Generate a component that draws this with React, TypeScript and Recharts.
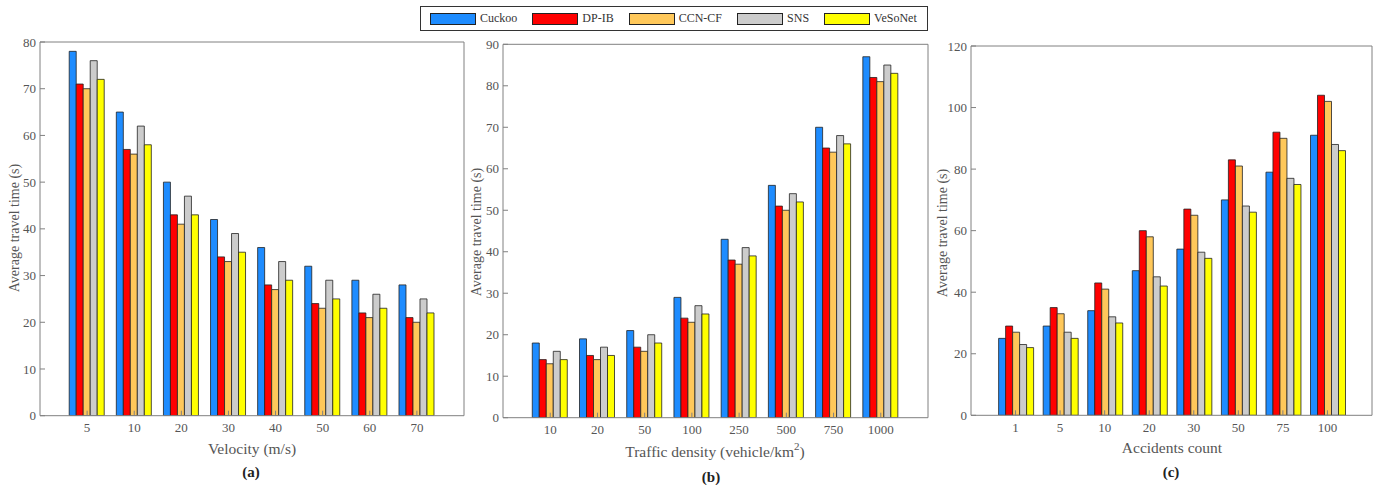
import React from 'react';
import { BarChart, Bar, XAxis, YAxis } from 'recharts';

const seriesNames = ['Cuckoo', 'DP-IB', 'CCN-CF', 'SNS', 'VeSoNet'];
const seriesColors = ['#1e8cff', '#ff0000', '#ffc85a', '#cccccc', '#ffff00'];

// (a) velocity
const velocityCats = ['5', '10', '20', '30', '40', '50', '60', '70'];
const velCuckoo = [78, 65, 50, 42, 36, 32, 29, 28];
const velDpib = [71, 57, 43, 34, 28, 24, 22, 21];
const velCcncf = [70, 56, 41, 33, 27, 23, 21, 20];
const velSns = [76, 62, 47, 39, 33, 29, 26, 25];
const velVesonet = [72, 58, 43, 35, 29, 25, 23, 22];
const velTicks = [0, 10, 20, 30, 40, 50, 60, 70, 80];

// (b) traffic density
const densityCats = ['10', '20', '50', '100', '250', '500', '750', '1000'];
const denCuckoo = [18, 19, 21, 29, 43, 56, 70, 87];
const denDpib = [14, 15, 17, 24, 38, 51, 65, 82];
const denCcncf = [13, 14, 16, 23, 37, 50, 64, 81];
const denSns = [16, 17, 20, 27, 41, 54, 68, 85];
const denVesonet = [14, 15, 18, 25, 39, 52, 66, 83];
const denTicks = [0, 10, 20, 30, 40, 50, 60, 70, 80, 90];

// (c) accidents count
const accidentCats = ['1', '5', '10', '20', '30', '50', '75', '100'];
const accCuckoo = [25, 29, 34, 47, 54, 70, 79, 91];
const accDpib = [29, 35, 43, 60, 67, 83, 92, 104];
const accCcncf = [27, 33, 41, 58, 65, 81, 90, 102];
const accSns = [23, 27, 32, 45, 53, 68, 77, 88];
const accVesonet = [22, 25, 30, 42, 51, 66, 75, 86];
const accTicks = [0, 20, 40, 60, 80, 100, 120];

const font = '"Liberation Serif", "Times New Roman", serif';
const axisGray = '#808080';
const textGray = '#555';

function makeRows(cats: string[], series: number[][]) {
  return cats.map((cat, i) => {
    const row: Record<string, string | number> = { cat };
    seriesNames.forEach((name, s) => {
      row[name] = series[s][i];
    });
    return row;
  });
}

type PanelProps = {
  data: Record<string, string | number>[];
  ticks: number[];
  plotLeft: number;
  plotWidth: number;
  plotTop: number;
  plotBottom: number;
};

function Panel({ data, ticks, plotLeft, plotWidth, plotTop, plotBottom }: PanelProps) {
  const yMax = ticks[ticks.length - 1];
  const pad = plotWidth / 18;
  const chartW = 40 + plotWidth + 8;
  const chartH = 485;
  return (
    <div style={{ position: 'absolute', left: plotLeft - 40, top: 0 }}>
      <BarChart
        width={chartW}
        height={chartH}
        data={data}
        margin={{ top: plotTop - 1, right: 7, bottom: chartH - plotBottom - 30, left: 10 }}
        barGap={0}
        barCategoryGap="12%"
      >
        <XAxis
          dataKey="cat"
          interval={0}
          height={30}
          padding={{ left: pad, right: pad }}
          axisLine={{ stroke: axisGray }}
          tickLine={{ stroke: axisGray }}
          tickSize={-5}
          tickMargin={12}
          tick={{ fill: textGray, fontSize: 13, fontFamily: font }}
        />
        <XAxis
          xAxisId="top"
          orientation="top"
          dataKey="cat"
          interval={0}
          height={1}
          padding={{ left: pad, right: pad }}
          axisLine={{ stroke: axisGray }}
          tickLine={{ stroke: axisGray }}
          tickSize={-5}
          tick={false}
        />
        <YAxis
          width={30}
          domain={[0, yMax]}
          ticks={ticks}
          interval={0}
          allowDataOverflow
          axisLine={{ stroke: axisGray }}
          tickLine={{ stroke: axisGray }}
          tickSize={-5}
          tickMargin={9}
          tick={{ fill: textGray, fontSize: 13, fontFamily: font }}
        />
        <YAxis
          yAxisId="right"
          orientation="right"
          width={1}
          domain={[0, yMax]}
          ticks={ticks}
          interval={0}
          allowDataOverflow
          axisLine={{ stroke: axisGray }}
          tickLine={{ stroke: axisGray }}
          tickSize={-5}
          tick={false}
        />
        {seriesNames.map((name, i) => (
          <Bar
            key={name}
            dataKey={name}
            fill={seriesColors[i]}
            stroke="#222"
            strokeWidth={0.8}
            isAnimationActive={false}
          />
        ))}
      </BarChart>
    </div>
  );
}

function Label({ x, y, text, rotate, bold, size }: { x: number; y: number; text: React.ReactNode; rotate?: boolean; bold?: boolean; size?: number }) {
  return (
    <div
      style={{
        position: 'absolute',
        left: x,
        top: y,
        transform: `translate(-50%, -50%)${rotate ? ' rotate(-90deg)' : ''}`,
        whiteSpace: 'nowrap',
        fontFamily: font,
        fontSize: size ?? 15.5,
        fontWeight: bold ? 'bold' : 'normal',
        color: bold ? '#222' : textGray,
        lineHeight: 1,
      }}
    >
      {text}
    </div>
  );
}

export default function App() {
  const velRows = makeRows(velocityCats, [velCuckoo, velDpib, velCcncf, velSns, velVesonet]);
  const denRows = makeRows(densityCats, [denCuckoo, denDpib, denCcncf, denSns, denVesonet]);
  const accRows = makeRows(accidentCats, [accCuckoo, accDpib, accCcncf, accSns, accVesonet]);

  return (
    <div style={{ position: 'absolute', left: 0, top: 0, width: 1381, height: 485, background: '#fff', fontFamily: font }}>
      <Panel data={velRows} ticks={velTicks} plotLeft={39.5} plotWidth={424} plotTop={42} plotBottom={415.7} />
      <Panel data={denRows} ticks={denTicks} plotLeft={503.3} plotWidth={425} plotTop={44.3} plotBottom={417.7} />
      <Panel data={accRows} ticks={accTicks} plotLeft={970.7} plotWidth={401} plotTop={46} plotBottom={415.3} />

      <Label x={15} y={228} text="Average travel time (s)" rotate size={14} />
      <Label x={477} y={232} text="Average travel time (s)" rotate size={14} />
      <Label x={943} y={233} text="Average travel time (s)" rotate size={14} />

      <Label x={252} y={449} text="Velocity (m/s)" />
      <Label
        x={715}
        y={452}
        text={
          <span>
            Traffic density (vehicle/km
            <sup style={{ fontSize: 11, verticalAlign: 'top', lineHeight: 1, position: 'relative', top: -3 }}>2</sup>)
          </span>
        }
      />
      <Label x={1172} y={448} text="Accidents count" />

      <Label x={251} y={472} text="(a)" bold size={15} />
      <Label x={711} y={477} text="(b)" bold size={15} />
      <Label x={1171} y={472} text="(c)" bold size={15} />

      <div
        style={{
          position: 'absolute',
          left: 420,
          top: 6,
          height: 23,
          border: '1px solid #333',
          display: 'flex',
          alignItems: 'center',
          paddingLeft: 9,
          paddingRight: 10,
          background: '#fff',
          fontFamily: font,
          fontSize: 12,
          color: '#333',
        }}
      >
        {seriesNames.map((name, i) => (
          <div key={name} style={{ display: 'flex', alignItems: 'center', marginRight: i < seriesNames.length - 1 ? 15 : 0 }}>
            <div style={{ width: 44, height: 10, background: seriesColors[i], border: '1px solid #222', marginRight: 4 }} />
            <span>{name}</span>
          </div>
        ))}
      </div>
    </div>
  );
}
